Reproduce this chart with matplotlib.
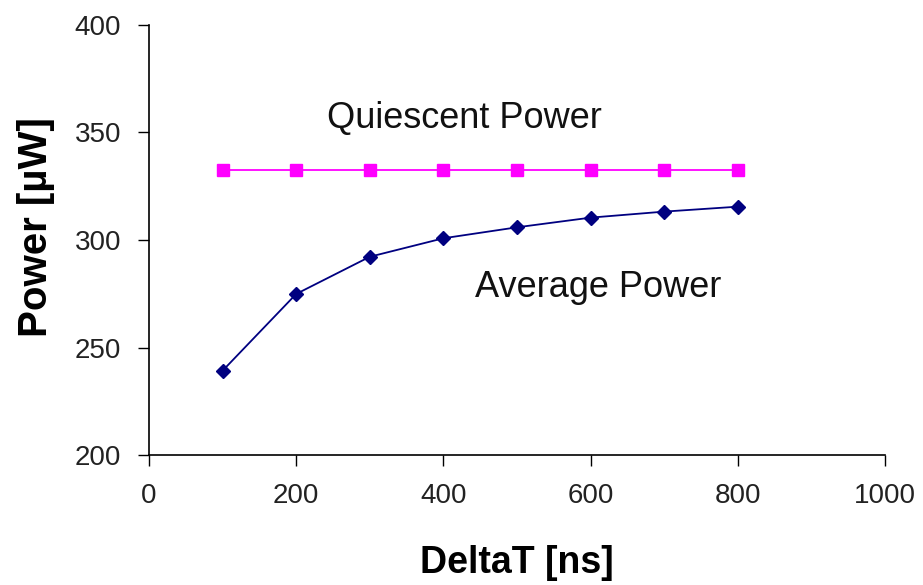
import matplotlib.pyplot as plt

plt.rcParams['font.family'] = ['Liberation Sans', 'DejaVu Sans']

# Values
delta_t = [100, 200, 300, 400, 500, 600, 700, 800]
quiescent_power = [332.5, 332.5, 332.5, 332.5, 332.5, 332.5, 332.5, 332.5]
average_power = [239.2, 274.9, 292.2, 300.8, 305.9, 310.4, 313.2, 315.5]

fig = plt.figure(figsize=(9.23, 5.85), dpi=100)
ax = fig.add_axes([0.1614, 0.2222, 0.7974, 0.7351])

ax.plot(delta_t, quiescent_power, color='#FF00FF', lw=1.3, marker='s',
        ms=8, mec='#FF00FF', mfc='#FF00FF')
ax.plot(delta_t, average_power, color='#000080', lw=1.3, marker='D',
        ms=7.5, mec='#000080', mfc='#000080')

ax.text(429, 356.5, 'Quiescent Power', fontsize=26, ha='center', va='center',
        color='#111111')
ax.text(610, 278, 'Average Power', fontsize=26, ha='center', va='center',
        color='#111111')

ax.set_xlim(0, 1000)
ax.set_ylim(200, 400)
ax.set_xticks([0, 200, 400, 600, 800, 1000])
ax.set_yticks([200, 250, 300, 350, 400])
ax.tick_params(direction='out', length=8, width=1, labelsize=20,
               labelcolor='#222222', pad=12)

for side in ('top', 'right'):
    ax.spines[side].set_visible(False)
for side in ('left', 'bottom'):
    ax.spines[side].set_linewidth(1.2)

ax.set_xlabel('DeltaT [ns]', fontsize=27, fontweight='bold', labelpad=26)
ax.set_ylabel('Power [µW]', fontsize=29, fontweight='bold')
ax.yaxis.set_label_coords(-0.128, 0.53)

fig.savefig('out.png', dpi=100)
